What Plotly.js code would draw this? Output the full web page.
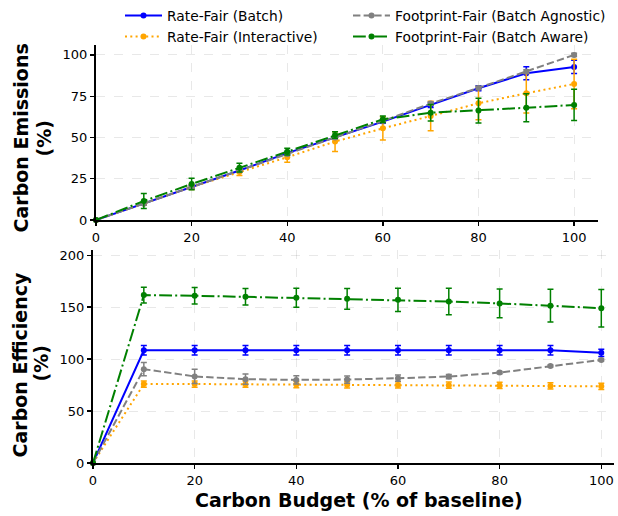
<!DOCTYPE html>
<html>
<head>
<meta charset="utf-8">
<script src="https://cdn.plot.ly/plotly-3.0.1.min.js"></script>
<style>html,body{margin:0;padding:0;background:#fff;}#chart{width:618px;height:516px;}</style>
</head>
<body>
<div id="chart"></div>
<script>
// ---- data ----
var budget = [0, 10, 20, 30, 40, 50, 60, 70, 80, 90, 100];
var seriesNames = ["Rate-Fair (Batch)", "Rate-Fair (Interactive)", "Footprint-Fair (Batch Agnostic)", "Footprint-Fair (Batch Aware)"];

// Carbon Emissions (%)
var emisRateBatch        = [0, 10, 20, 30, 40.5, 50, 59.6, 69.7, 79.8, 88.9, 92.7];
var emisRateBatchErr     = [0, 1, 1, 1, 1, 1, 1, 1.5, 1.5, 4, 4];
var emisRateInter        = [0, 10, 20, 29, 38, 47.5, 55.5, 63, 70.7, 76.8, 82.4];
var emisRateInterErr     = [0, 1, 1.5, 2, 3, 6, 7, 9, 10, 12, 15];
var emisFpAgnostic       = [0, 10, 20, 30, 40, 50, 60, 70.5, 80, 90, 100];
var emisFpAgnosticErr    = [0, 1, 1, 1, 1, 1, 1, 1, 1, 1, 1];
var emisFpAware          = [0, 11.5, 21.8, 31.7, 41.4, 51.5, 61, 65, 66.3, 68, 69.7];
var emisFpAwareErr       = [0, 4.5, 3.5, 2.7, 2, 2, 2, 5, 7.5, 8.5, 9.5];

// Carbon Efficiency (%)
var effRateBatch         = [0, 108.5, 108.5, 108.5, 108.5, 108.5, 108.5, 108.5, 108.5, 108.5, 106];
var effRateBatchErr      = [0, 4.5, 4.5, 4.5, 4.5, 4.5, 4.5, 4.5, 4.5, 4.5, 3.5];
var effRateInter         = [0, 76, 76, 75.8, 75.5, 75.3, 75.1, 74.9, 74.6, 74.2, 73.8];
var effRateInterErr      = [0, 3, 3, 3, 3, 3, 3, 3, 3, 3, 3];
var effFpAgnostic        = [0, 90.3, 83.3, 80.7, 80, 80.3, 81.6, 83.2, 87, 93.4, 99.2];
var effFpAgnosticErr     = [0, 6.4, 6.9, 5, 4, 3.5, 3, 2, 1, 1, 1];
var effFpAware           = [0, 161.6, 161, 160, 159, 158, 157, 155.4, 153.6, 151.4, 149];
var effFpAwareErr        = [0, 7.5, 7.9, 8, 9.1, 10, 11.2, 12.8, 13.9, 15.8, 18];

var xTicks = [0, 20, 40, 60, 80, 100];
var yTicksTop = [0, 25, 50, 75, 100];
var yTicksBottom = [0, 50, 100, 150, 200];

// ---- styles ----
var FONT = "DejaVu Sans";
var colors = ["#0000ff", "#ffa500", "#808080", "#008000"];
var dashes = ["solid", "2px,3.3px", "7.4px,3.2px", "12.8px,3.2px,2px,3.2px"];
var legendIds = ["legend", "legend", "legend2", "legend2"];

var emisY = [emisRateBatch, emisRateInter, emisFpAgnostic, emisFpAware];
var emisE = [emisRateBatchErr, emisRateInterErr, emisFpAgnosticErr, emisFpAwareErr];
var effY = [effRateBatch, effRateInter, effFpAgnostic, effFpAware];
var effE = [effRateBatchErr, effRateInterErr, effFpAgnosticErr, effFpAwareErr];

function mk(i, y, e, xa, ya, show) {
  return {
    type: "scatter", mode: "lines+markers",
    x: budget, y: y, name: seriesNames[i],
    xaxis: xa, yaxis: ya,
    showlegend: show, legend: legendIds[i],
    line: {color: colors[i], width: 2, dash: dashes[i]},
    marker: {color: colors[i], size: 6, symbol: "circle"},
    error_y: {type: "data", array: e, visible: true, color: colors[i], thickness: 1.5, width: 3},
    cliponaxis: false
  };
}

var data = [];
for (var i = 0; i < 4; i++) data.push(mk(i, emisY[i], emisE[i], "x", "y", true));
for (var j = 0; j < 4; j++) data.push(mk(j, effY[j], effE[j], "x2", "y2", false));

function axisBase(extra) {
  var a = {
    showline: true, linewidth: 2, linecolor: "#000",
    ticks: "outside", ticklen: 4, tickwidth: 1.3, tickcolor: "#000",
    showgrid: true, gridcolor: "rgba(0,0,0,0.09)", griddash: "dash", gridwidth: 1,
    zeroline: false, tickfont: {family: FONT, size: 13, color: "#000"},
    fixedrange: true
  };
  for (var k in extra) a[k] = extra[k];
  return a;
}

var W = 618, H = 516;
var layout = {
  width: W, height: H,
  margin: {l: 0, r: 0, t: 0, b: 0},
  paper_bgcolor: "#fff", plot_bgcolor: "#fff",
  font: {family: FONT, color: "#000"},
  xaxis: axisBase({domain: [96 / W, 598 / W], range: [0, 105], anchor: "y", tickvals: xTicks}),
  yaxis: axisBase({domain: [1 - 220 / H, 1 - 45 / H], range: [0, 106], anchor: "x", tickvals: yTicksTop}),
  xaxis2: axisBase({domain: [93 / W, 614 / W], range: [0, 102.5], anchor: "y2", tickvals: xTicks}),
  yaxis2: axisBase({domain: [1 - 463 / H, 1 - 250 / H], range: [0, 205], anchor: "x2", tickvals: yTicksBottom}),
  legend: {x: 120 / W, xanchor: "left", y: 1, yanchor: "top", bgcolor: "rgba(0,0,0,0)",
           font: {family: FONT, size: 13.8, color: "#000"}, itemwidth: 37, tracegroupgap: 0},
  legend2: {x: 348 / W, xanchor: "left", y: 1, yanchor: "top", bgcolor: "rgba(0,0,0,0)",
           font: {family: FONT, size: 13.8, color: "#000"}, itemwidth: 37, tracegroupgap: 0},
  annotations: [
    {text: "<b>Carbon Emissions</b>", xref: "paper", yref: "paper", x: 20 / W, y: 1 - 138.5 / H,
     textangle: -90, showarrow: false, xanchor: "center", yanchor: "middle", font: {family: FONT, size: 19}},
    {text: "<b>(%)</b>", xref: "paper", yref: "paper", x: 43 / W, y: 1 - 138.5 / H,
     textangle: -90, showarrow: false, xanchor: "center", yanchor: "middle", font: {family: FONT, size: 19}},
    {text: "<b>Carbon Efficiency</b>", xref: "paper", yref: "paper", x: 19 / W, y: 1 - 364.5 / H,
     textangle: -90, showarrow: false, xanchor: "center", yanchor: "middle", font: {family: FONT, size: 19}},
    {text: "<b>(%)</b>", xref: "paper", yref: "paper", x: 40 / W, y: 1 - 363.5 / H,
     textangle: -90, showarrow: false, xanchor: "center", yanchor: "middle", font: {family: FONT, size: 19}},
    {text: "<b>Carbon Budget (% of baseline)</b>", xref: "paper", yref: "paper", x: 359 / W, y: 1 - 500 / H,
     showarrow: false, xanchor: "center", yanchor: "middle", font: {family: FONT, size: 19}}
  ]
};

Plotly.newPlot("chart", data, layout, {staticPlot: true});
</script>
</body>
</html>
